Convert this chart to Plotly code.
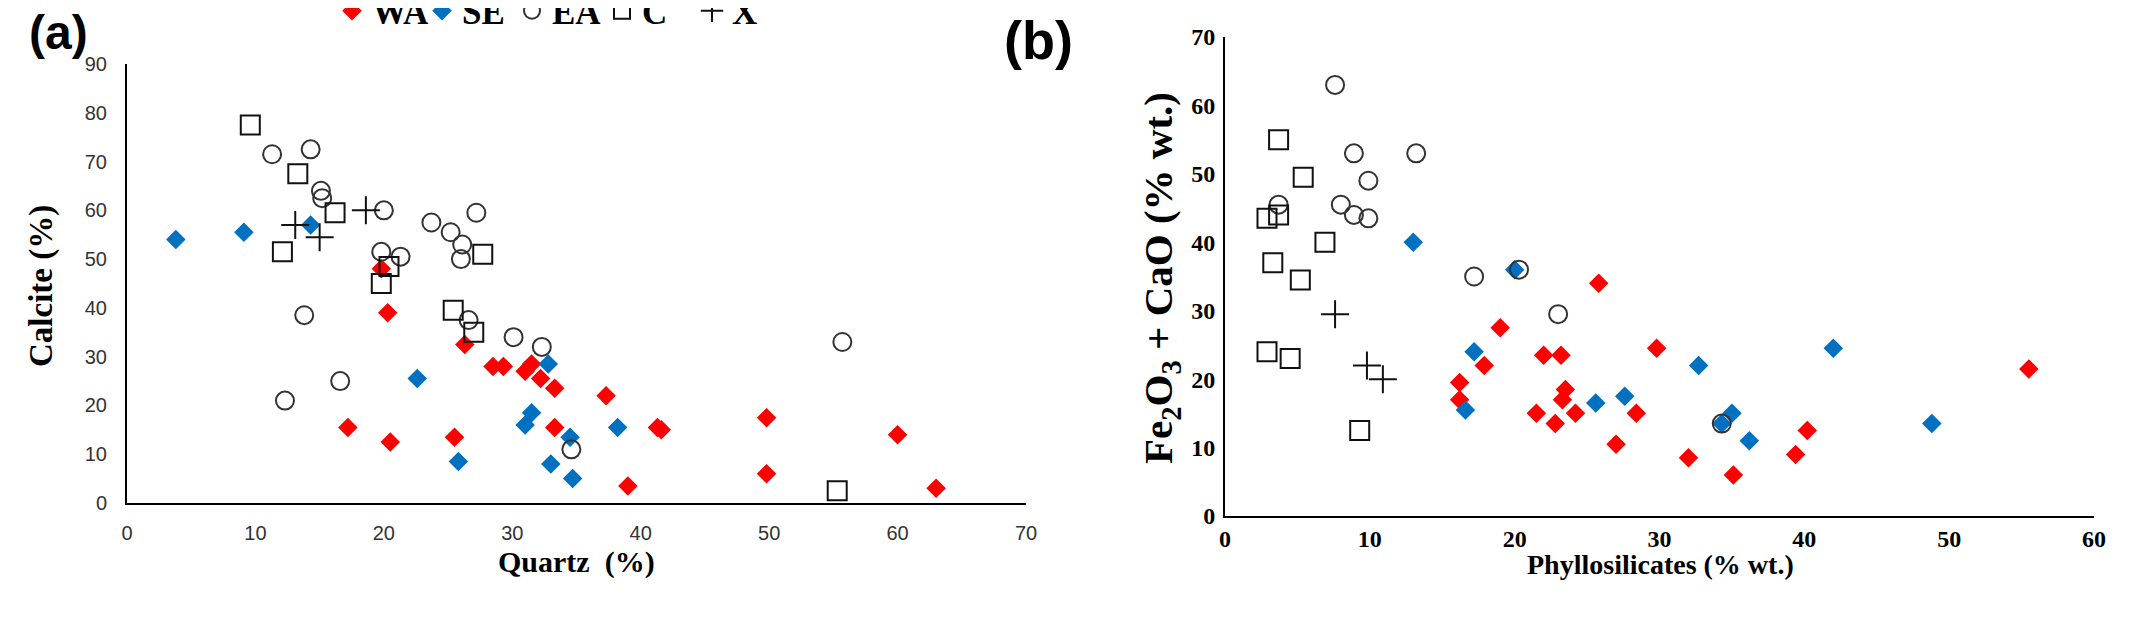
import plotly.graph_objects as go

# ---- panel (a): Quartz vs Calcite ----
wa_qz = [19.8, 20.3, 26.3, 17.2, 20.5, 25.5, 28.5, 29.3, 31.0, 31.5, 32.2, 33.3, 37.3, 33.3, 41.3, 41.6, 39.0, 49.8, 49.8, 60.0, 63.0]
wa_cal = [48.0, 39.0, 32.5, 15.5, 12.5, 13.5, 28.0, 28.0, 27.0, 28.5, 25.5, 23.5, 22.0, 15.5, 15.5, 15.0, 3.5, 17.5, 6.0, 14.0, 3.0]

se_qz = [3.8, 9.1, 14.3, 22.6, 25.8, 31.0, 31.5, 32.8, 33.0, 34.5, 34.7, 38.2]
se_cal = [54.0, 55.5, 57.0, 25.5, 8.5, 16.0, 18.5, 28.5, 8.0, 13.5, 5.0, 15.5]

ea_qz = [11.3, 14.3, 15.1, 15.2, 20.0, 19.8, 21.3, 23.7, 25.2, 26.1, 26.0, 27.2, 13.8, 12.3, 16.6, 26.6, 30.1, 32.3, 34.6, 55.7]
ea_cal = [71.5, 72.5, 64.0, 62.5, 60.0, 51.5, 50.5, 57.5, 55.5, 53.0, 50.0, 59.5, 38.5, 21.0, 25.0, 37.5, 34.0, 32.0, 11.0, 33.0]

c_qz = [9.6, 13.3, 16.2, 12.1, 20.4, 19.8, 25.4, 27.0, 27.7, 55.3]
c_cal = [77.5, 67.5, 59.5, 51.5, 48.5, 45.0, 39.5, 35.0, 51.0, 2.5]

x_qz = [13.1, 15.0, 18.6]
x_cal = [57.0, 54.5, 60.0]

# ---- panel (b): Phyllosilicates vs Fe2O3 + CaO ----
wa_phy = [16.2, 16.2, 17.9, 19.0, 22.0, 23.2, 23.5, 23.3, 21.5, 22.8, 24.2, 25.8, 27.0, 28.4, 29.8, 32.0, 35.1, 39.4, 40.2, 55.5]
wa_fec = [19.5, 17.0, 22.0, 27.5, 23.5, 23.5, 18.5, 17.0, 15.0, 13.5, 15.0, 34.0, 10.5, 15.0, 24.5, 8.5, 6.0, 9.0, 12.5, 21.5]

se_phy = [13.0, 20.0, 17.2, 16.6, 25.6, 27.6, 32.7, 34.3, 35.0, 36.2, 42.0, 48.8]
se_fec = [40.0, 36.0, 24.0, 15.5, 16.5, 17.5, 22.0, 13.5, 15.0, 11.0, 24.5, 13.5]

ea_phy = [7.6, 8.9, 9.9, 8.0, 8.9, 9.9, 3.7, 13.2, 17.2, 20.3, 23.0, 34.3]
ea_fec = [63.0, 53.0, 49.0, 45.5, 44.0, 43.5, 45.5, 53.0, 35.0, 36.0, 29.5, 13.5]

c_phy = [3.7, 5.4, 2.9, 3.7, 3.3, 6.9, 5.2, 2.9, 4.5, 9.3]
c_fec = [55.0, 49.5, 43.5, 44.0, 37.0, 40.0, 34.5, 24.0, 23.0, 12.5]

x_phy = [7.6, 9.8, 10.9]
x_fec = [29.5, 22.0, 20.0]

groups = ["WA", "SE", "EA", "C", "X"]

RED = "#ff0000"
BLUE = "#0070c0"
SERIF = "Liberation Serif"
NARROW = "Liberation Sans Narrow, Liberation Sans"

styles = {
    "WA": dict(symbol="diamond", size=15, color=RED),
    "SE": dict(symbol="diamond", size=15, color=BLUE),
    "EA": dict(symbol="circle-open", size=18, color="#333333", line=dict(width=2, color="#333333")),
    "C": dict(symbol="square-open", size=19, color="#111111", line=dict(width=2, color="#111111")),
    "X": dict(symbol="cross-thin-open", size=20, color="#111111", line=dict(width=2, color="#111111")),
}

data_a = {"WA": (wa_qz, wa_cal), "SE": (se_qz, se_cal), "EA": (ea_qz, ea_cal),
          "C": (c_qz, c_cal), "X": (x_qz, x_cal)}
data_b = {"WA": (wa_phy, wa_fec), "SE": (se_phy, se_fec), "EA": (ea_phy, ea_fec),
          "C": (c_phy, c_fec), "X": (x_phy, x_fec)}

fig = go.Figure()

for g in groups:
    xs, ys = data_a[g]
    fig.add_trace(go.Scatter(x=xs, y=ys, mode="markers", name=g, marker=styles[g],
                             xaxis="x", yaxis="y", showlegend=True))
for g in groups:
    xs, ys = data_b[g]
    fig.add_trace(go.Scatter(x=xs, y=ys, mode="markers", name=g, marker=styles[g],
                             xaxis="x2", yaxis="y2", showlegend=False))

W, H = 2139, 626

# positions below are measured in figure pixels from the top-left corner
def px(v):
    return v / W

def py(v):
    return 1 - v / H

axis_common = dict(showgrid=False, zeroline=False, showline=True, linecolor="black",
                   linewidth=2, ticks="", mirror=False)

tick_a = dict(family=NARROW, size=20, color="#333333")
tick_b = dict(family=SERIF, size=24, color="black", weight="bold")

fig.update_layout(
    width=W, height=H,
    margin=dict(l=0, r=0, t=0, b=0, autoexpand=False),
    plot_bgcolor="white", paper_bgcolor="white",
    xaxis=dict(domain=[px(119), px(1018)], range=[0, 70], dtick=10, anchor="y",
               tickfont=tick_a, ticklabelstandoff=11, **axis_common),
    yaxis=dict(domain=[py(495), py(56)], range=[0, 90], dtick=10, anchor="x",
               tickfont=tick_a, ticklabelstandoff=14, **axis_common),
    xaxis2=dict(domain=[px(1217), px(2086)], range=[0, 60], dtick=10, anchor="y2",
                tickfont=tick_b, ticklabelstandoff=0, **axis_common),
    yaxis2=dict(domain=[py(508), py(29)], range=[0, 70], dtick=10, anchor="x2",
                tickfont=tick_b, ticklabelstandoff=3, **axis_common),
    legend=dict(orientation="h", x=px(324), y=py(3), xanchor="left", yanchor="middle",
                font=dict(family=SERIF, size=35, color="black", weight="bold"),
                itemwidth=30, entrywidth=45, entrywidthmode="pixels",
                tracegroupgap=0, bgcolor="rgba(0,0,0,0)"),
)

annotations = [
    dict(text="(a)", x=px(50), y=py(24), font=dict(family="Liberation Sans", size=48, weight="bold")),
    dict(text="(b)", x=px(1030), y=py(32), font=dict(family="Liberation Sans", size=54, weight="bold")),
    dict(text="Calcite (%)", x=px(33), y=py(278), textangle=-90,
         font=dict(family=SERIF, size=33, weight="bold")),
    dict(text="Quartz  (%)", x=px(568), y=py(554),
         font=dict(family=SERIF, size=30, weight="bold")),
    dict(text="Fe<sub>2</sub>O<sub>3</sub> + CaO (% wt.)", x=px(1153), y=py(270), textangle=-90,
         font=dict(family=SERIF, size=41, weight="bold")),
    dict(text="Phyllosilicates (% wt.)", x=px(1652), y=py(556),
         font=dict(family=SERIF, size=28, weight="bold")),
]
for a in annotations:
    a.update(xref="paper", yref="paper", showarrow=False, xanchor="center", yanchor="middle")
    a["font"].setdefault("color", "black")
fig.update_layout(annotations=annotations)

fig.write_html("out.html")
